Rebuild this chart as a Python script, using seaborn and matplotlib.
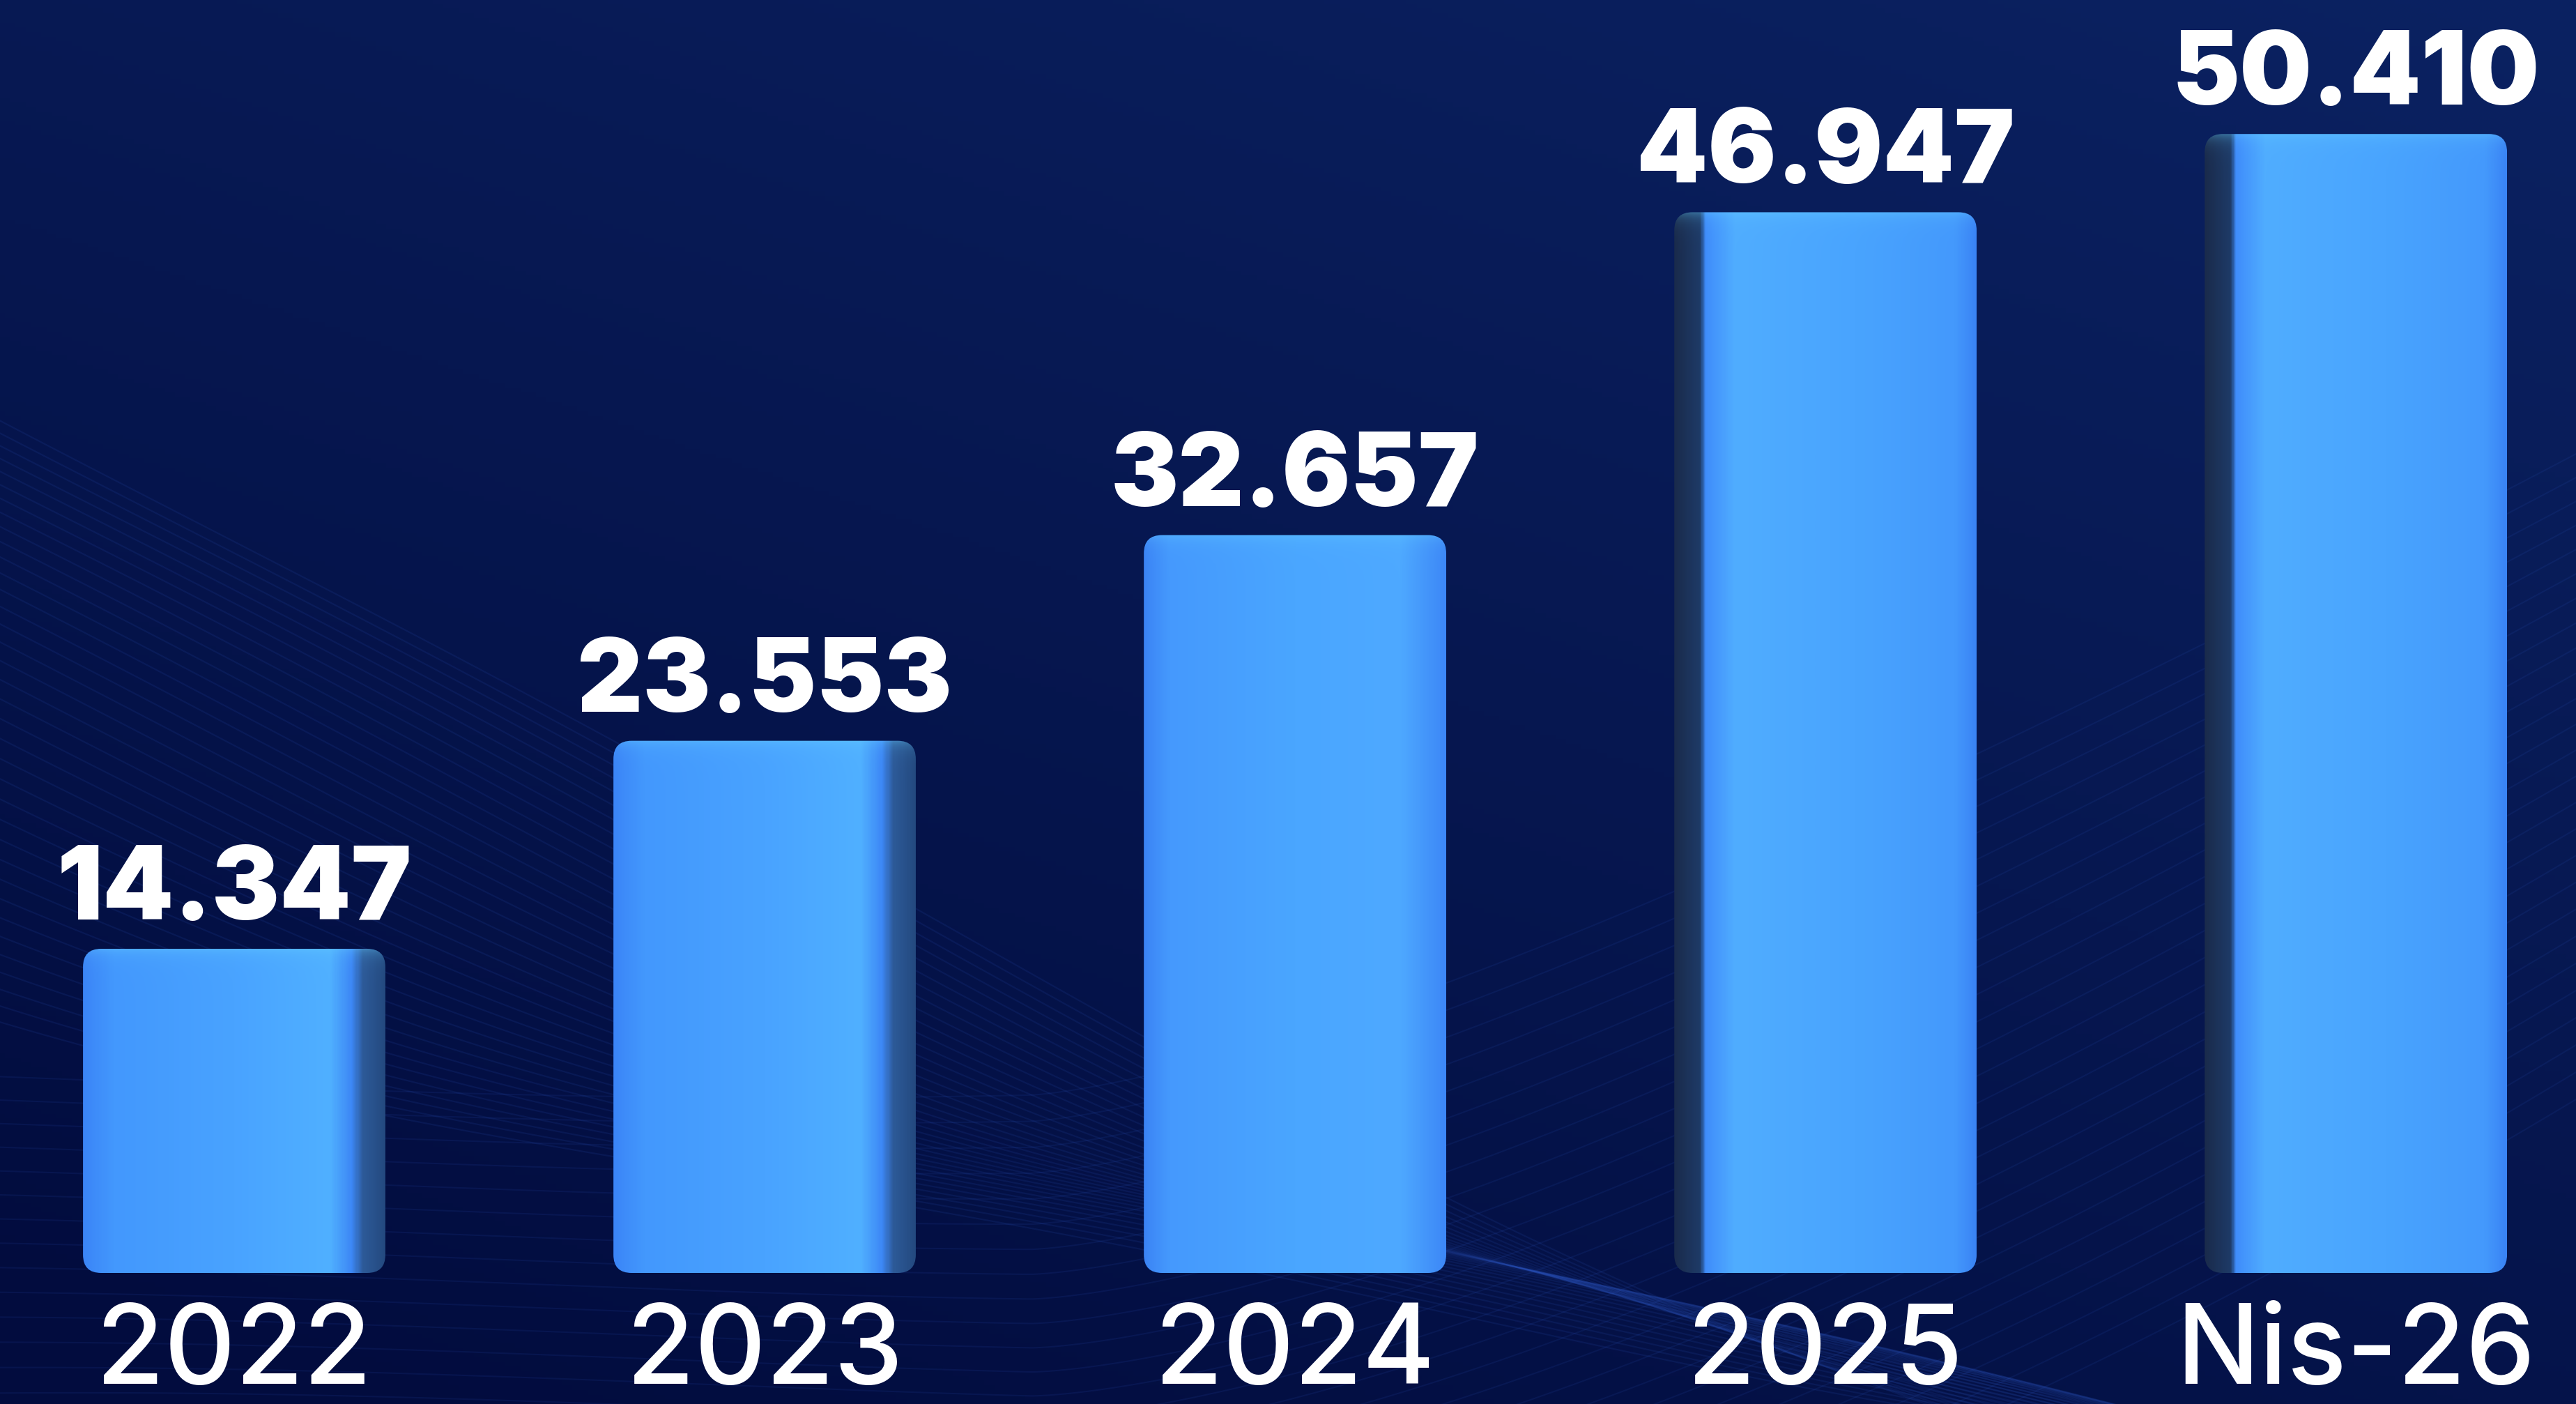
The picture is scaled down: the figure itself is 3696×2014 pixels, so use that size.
import numpy as np
import matplotlib
matplotlib.use("Agg")
import matplotlib.pyplot as plt
from matplotlib.colors import LinearSegmentedColormap, to_rgb
from matplotlib.patches import FancyBboxPatch
import seaborn as sns

# ─────────────────────────────────────────────
# Data
# ─────────────────────────────────────────────
CATEGORIES   = ["2022", "2023", "2024", "2025", "Nis-26"]
VALUES       = [14.347, 23.553, 32.657, 46.947, 50.410]
VALUE_LABELS = ["14.347", "23.553", "32.657", "46.947", "50.410"]

# which side of each bar carries the dark "3D" edge
SHADE_SIDE = ["right", "right", "none", "left", "left"]

W, H, DPI = 3696, 2015, 100

sns.set_theme(style="white")
plt.rcParams["font.family"] = ["Inter", "DejaVu Sans"]

fig = plt.figure(figsize=(W / DPI, H / DPI), dpi=DPI)

# ─────────────────────────────────────────────
# Background — navy gradient + faint wave lines
# ─────────────────────────────────────────────
bg = fig.add_axes([0, 0, 1, 1], zorder=0)
bg.set_axis_off()
yy, xx = np.mgrid[0:1:300j, 0:1:500j]          # yy = 0 at top
t = np.clip(0.65 * (1 - yy) + 0.40 * xx - 0.05, 0, 1)
dark = np.array(to_rgb("#020c3e"))
light = np.array(to_rgb("#0b2262"))
img = dark + (light - dark) * t[..., None]
bg.imshow(img, extent=(0, 1, 0, 1), aspect="auto", origin="upper")

xs = np.linspace(0, 1, 500)
for k in range(36):
    off = k / 36
    ys = (0.70 - 0.42 * off) - (1.10 - 0.55 * off) * xs + 0.25 * xs ** 2 \
        + 0.02 * np.sin(7 * xs + 5 * off)
    bg.plot(xs, ys, color="#3563d8", alpha=0.11, lw=1.6)
for k in range(26):
    off = k / 26
    ys = -0.22 + 0.018 * k + 0.9 * np.clip(xs - 0.40, 0, None) ** 1.4 \
        + 0.012 * np.sin(6 * xs + 3 * off)
    bg.plot(xs, ys, color="#3563d8", alpha=0.10, lw=1.5)
bg.set_xlim(0, 1)
bg.set_ylim(0, 1)

# ─────────────────────────────────────────────
# Bars
# ─────────────────────────────────────────────
base_px = 1827
ax = fig.add_axes([0, (H - base_px) / H, 1, base_px / H], zorder=1)
ax.patch.set_alpha(0)

sns.barplot(x=CATEGORIES, y=VALUES, color="#48a2fe", width=0.57,
            saturation=1, ax=ax)

ax.set_xlim(-0.4415, 4.415)
ax.set_ylim(0, base_px / 32.41)
ax.set_axis_off()

shade_maps = {
    "left": LinearSegmentedColormap.from_list("l", [
        (0.0, "#1a2b4c"), (0.085, "#1e3b68"), (0.10, "#3f8cfb"),
        (0.20, "#50adff"), (0.60, "#49a4fe"), (0.93, "#4499fc"),
        (1.0, "#3a84f5")]),
    "right": LinearSegmentedColormap.from_list("r", [
        (0.0, "#3b85f7"), (0.10, "#4398fd"), (0.50, "#49a3ff"),
        (0.82, "#50b0ff"), (0.89, "#3d88f6"), (0.93, "#2d5a98"),
        (1.0, "#244a80")]),
    "none": LinearSegmentedColormap.from_list("n", [
        (0.0, "#3b84f5"), (0.08, "#4599fd"), (0.50, "#4aa6ff"),
        (0.85, "#4ea9ff"), (1.0, "#3d88f7")]),
}

px_x = ax.transData.transform((1, 0))[0] - ax.transData.transform((0, 0))[0]
px_y = ax.transData.transform((0, 1))[1] - ax.transData.transform((0, 0))[1]
rounding_px = 26

for bar, side in zip(ax.patches, SHADE_SIDE):
    x0, w, h = bar.get_x(), bar.get_width(), bar.get_height()
    bar.set_visible(False)

    box = FancyBboxPatch((x0, 0), w, h,
                         boxstyle=f"round,pad=0,rounding_size={rounding_px / px_x}",
                         mutation_aspect=px_x / px_y,
                         facecolor="none", edgecolor="none",
                         transform=ax.transData)
    ax.add_patch(box)

    n_rows = max(int(h * px_y), 2)
    u = np.linspace(0, 1, 300)
    row = shade_maps[side](u)[:, :3]
    grad = np.repeat(row[None, :, :], n_rows, axis=0)
    # light highlight along the top edge
    hl = np.exp(-np.arange(n_rows) / 10.0)[:, None, None] * 0.35
    grad = grad + (np.array(to_rgb("#66d0ff")) - grad) * hl
    im = ax.imshow(grad, extent=(x0, x0 + w, 0, h), aspect="auto",
                   origin="upper", zorder=2, interpolation="bilinear")
    im.set_clip_path(box)

ax.set_xlim(-0.4415, 4.415)
ax.set_ylim(0, base_px / 32.41)

# ─────────────────────────────────────────────
# Labels
# ─────────────────────────────────────────────
for i, (v, lab) in enumerate(zip(VALUES, VALUE_LABELS)):
    ax.annotate(lab, xy=(i, v), xytext=(0, 31), textcoords="offset points",
                ha="center", va="baseline", color="white",
                fontsize=105, fontweight="black", zorder=3,
                annotation_clip=False)

for i, cat in enumerate(CATEGORIES):
    ax.annotate(cat, xy=(i, 0), xytext=(0, -(1985 - base_px) * 72 / DPI),
                textcoords="offset points", ha="center", va="baseline",
                color="white", fontsize=114, fontweight="medium", zorder=3,
                annotation_clip=False)

fig.savefig("out.png", dpi=DPI)
